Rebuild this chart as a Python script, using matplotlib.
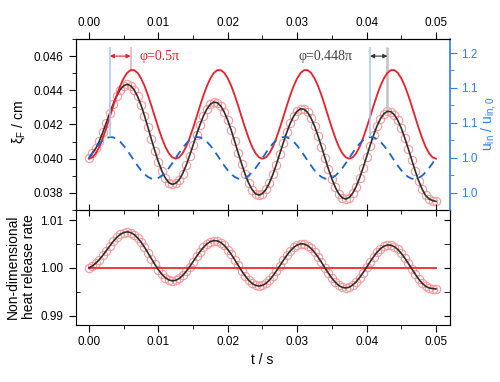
import matplotlib
matplotlib.use('Agg')
import matplotlib.pyplot as plt
import numpy as np
from matplotlib.ticker import MultipleLocator, FixedLocator, FixedFormatter

plt.rcParams['font.family'] = ['Liberation Sans', 'DejaVu Sans']

# time samples, s
t = np.linspace(0, 0.05, 101)

# flame position with oscillating inlet (black line + circles), cm
xi_flame = [0.04002, 0.04032, 0.04062, 0.04104, 0.04155, 0.04211, 0.04267, 0.04321, 0.04368, 0.04404,
            0.04427, 0.04435, 0.04427, 0.04403, 0.04364, 0.04313, 0.04251, 0.04183, 0.04113, 0.04045,
            0.03982, 0.03928, 0.03887, 0.03860, 0.03850, 0.03856, 0.03877, 0.03913, 0.03961, 0.04018,
            0.04079, 0.04141, 0.04199, 0.04251, 0.04291, 0.04319, 0.04331, 0.04327, 0.04307, 0.04272,
            0.04224, 0.04166, 0.04101, 0.04034, 0.03969, 0.03909, 0.03858, 0.03819, 0.03795, 0.03787,
            0.03796, 0.03820, 0.03858, 0.03908, 0.03966, 0.04030, 0.04093, 0.04154, 0.04207, 0.04249,
            0.04278, 0.04292, 0.04289, 0.04271, 0.04237, 0.04191, 0.04134, 0.04071, 0.04005, 0.03940,
            0.03882, 0.03832, 0.03794, 0.03771, 0.03764, 0.03773, 0.03798, 0.03837, 0.03888, 0.03947,
            0.04011, 0.04076, 0.04137, 0.04191, 0.04234, 0.04263, 0.04277, 0.04275, 0.04257, 0.04224,
            0.04178, 0.04122, 0.04059, 0.03994, 0.03930, 0.03871, 0.03822, 0.03785, 0.03765, 0.03755,
            0.03750]

# quasi-steady flame position (red line), cm
xi_quasi = [0.04000, 0.04008, 0.04032, 0.04070, 0.04121, 0.04180, 0.04244, 0.04309, 0.04371, 0.04426,
            0.04470, 0.04502, 0.04518, 0.04518, 0.04502, 0.04470, 0.04426, 0.04371, 0.04309, 0.04244,
            0.04180, 0.04121, 0.04070, 0.04032, 0.04008,
            0.04000, 0.04008, 0.04032, 0.04070, 0.04121, 0.04180, 0.04244, 0.04309, 0.04371, 0.04426,
            0.04470, 0.04502, 0.04518, 0.04518, 0.04502, 0.04470, 0.04426, 0.04371, 0.04309, 0.04244,
            0.04180, 0.04121, 0.04070, 0.04032, 0.04008,
            0.04000, 0.04008, 0.04032, 0.04070, 0.04121, 0.04180, 0.04244, 0.04309, 0.04371, 0.04426,
            0.04470, 0.04502, 0.04518, 0.04518, 0.04502, 0.04470, 0.04426, 0.04371, 0.04309, 0.04244,
            0.04180, 0.04121, 0.04070, 0.04032, 0.04008,
            0.04000, 0.04008, 0.04032, 0.04070, 0.04121, 0.04180, 0.04244, 0.04309, 0.04371, 0.04426,
            0.04470, 0.04502, 0.04518, 0.04518, 0.04502, 0.04470, 0.04426, 0.04371, 0.04309, 0.04244,
            0.04180, 0.04121, 0.04070, 0.04032, 0.04008,
            0.04000]

# inlet velocity ratio (blue dashed)
u_in = [1.0000, 1.0075, 1.0145, 1.0205, 1.0253, 1.0285, 1.0299, 1.0295, 1.0271, 1.0231,
        1.0176, 1.0110, 1.0038, 0.9962, 0.9890, 0.9824, 0.9769, 0.9729, 0.9705, 0.9701,
        0.9715, 0.9747, 0.9795, 0.9855, 0.9925,
        1.0000, 1.0075, 1.0145, 1.0205, 1.0253, 1.0285, 1.0299, 1.0295, 1.0271, 1.0231,
        1.0176, 1.0110, 1.0038, 0.9962, 0.9890, 0.9824, 0.9769, 0.9729, 0.9705, 0.9701,
        0.9715, 0.9747, 0.9795, 0.9855, 0.9925,
        1.0000, 1.0075, 1.0145, 1.0205, 1.0253, 1.0285, 1.0299, 1.0295, 1.0271, 1.0231,
        1.0176, 1.0110, 1.0038, 0.9962, 0.9890, 0.9824, 0.9769, 0.9729, 0.9705, 0.9701,
        0.9715, 0.9747, 0.9795, 0.9855, 0.9925,
        1.0000, 1.0075, 1.0145, 1.0205, 1.0253, 1.0285, 1.0299, 1.0295, 1.0271, 1.0231,
        1.0176, 1.0110, 1.0038, 0.9962, 0.9890, 0.9824, 0.9769, 0.9729, 0.9705, 0.9701,
        0.9715, 0.9747, 0.9795, 0.9855, 0.9925,
        1.0000]

# non-dimensional heat release rate
heat = [1.00000, 1.00040, 1.00100, 1.00174, 1.00263, 1.00361, 1.00460, 1.00554, 1.00636, 1.00699,
        1.00739, 1.00753, 1.00739, 1.00697, 1.00629, 1.00539, 1.00432, 1.00313, 1.00191, 1.00071,
        0.99960, 0.99867, 0.99794, 0.99748, 0.99729, 0.99740, 0.99778, 0.99841, 0.99925, 1.00023,
        1.00130, 1.00239, 1.00341, 1.00431, 1.00502, 1.00550, 1.00571, 1.00564, 1.00529, 1.00468,
        1.00384, 1.00283, 1.00170, 1.00053, 0.99938, 0.99833, 0.99744, 0.99676, 0.99634, 0.99620,
        0.99635, 0.99677, 0.99744, 0.99832, 0.99934, 1.00044, 1.00156, 1.00261, 1.00354, 1.00429,
        1.00479, 1.00503, 1.00499, 1.00466, 1.00407, 1.00326, 1.00227, 1.00116, 1.00001, 0.99888,
        0.99785, 0.99698, 0.99632, 0.99592, 0.99580, 0.99596, 0.99640, 0.99708, 0.99797, 0.99900,
        1.00012, 1.00125, 1.00232, 1.00326, 1.00401, 1.00453, 1.00478, 1.00474, 1.00443, 1.00385,
        1.00304, 1.00206, 1.00096, 0.99982, 0.99870, 0.99767, 0.99681, 0.99616, 0.99580, 0.99568,
        0.99560]

t_steady = [0.0, 0.05]
heat_steady = [1.0, 1.0]

phase_labels = ['\u03c6=0.5\u03c0', '\u03c6=0.448\u03c0']

u_ticks = [1.15, 1.10, 1.05, 1.00, 0.95]
u_ticklabels = ['1.2', '1.1', '1.1', '1.0', '1.0']

RED = '#e8202a'
CIRC = '#f59a9a'
BLACK = '#2e2e2e'
BLUE = '#1a62d6'
AXBLUE = '#2f7de6'

fig = plt.figure(figsize=(5.0, 3.82), dpi=100)
ax1 = fig.add_axes([0.152, 0.4503, 0.748, 0.4476])
ax3 = fig.add_axes([0.152, 0.1492, 0.748, 0.3011])
ax2 = ax1.twinx()

# ---- top panel
ax1.plot(t, xi_flame, 'o', ms=6, mfc='none', mec=CIRC, mew=0.8, zorder=2)
ax1.plot(t, xi_flame, color=BLACK, lw=1.2, zorder=3)
ax1.plot(t, xi_quasi, color=RED, lw=1.3, zorder=3)
ax2.plot(t, u_in, color=BLUE, lw=1.3, dashes=(4.5, 3.2))

ax1.set_xlim(-0.00187, 0.05202)
ax1.set_ylim(0.037, 0.047)
ax2.set_ylim(0.9257, 1.17)

ax1.xaxis.set_major_locator(MultipleLocator(0.01))
ax1.xaxis.set_minor_locator(MultipleLocator(0.005))
ax1.xaxis.set_major_formatter(plt.FormatStrFormatter('%.2f'))
ax1.tick_params(axis='x', which='both', top=True, bottom=False, labeltop=True,
                labelbottom=False, direction='out', labelsize=8.5, pad=2)
ax1.tick_params(axis='x', which='major', length=5)
ax1.tick_params(axis='x', which='minor', length=3)
ax1.yaxis.set_major_locator(MultipleLocator(0.002))
ax1.yaxis.set_minor_locator(MultipleLocator(0.001))
ax1.yaxis.set_major_formatter(plt.FormatStrFormatter('%.3f'))
ax1.tick_params(axis='y', which='both', direction='out', labelsize=8.5, pad=4, right=False)
ax1.tick_params(axis='y', which='major', length=5)
ax1.tick_params(axis='y', which='minor', length=3)
ax1.spines['right'].set_visible(False)
ax1.spines['bottom'].set_visible(False)

ax2.yaxis.set_major_locator(FixedLocator(u_ticks))
ax2.yaxis.set_major_formatter(FixedFormatter(u_ticklabels))
ax2.yaxis.set_minor_locator(MultipleLocator(0.025))
ax2.tick_params(axis='y', which='both', direction='out', colors=AXBLUE, labelsize=8.5, pad=3)
ax2.tick_params(axis='y', which='major', length=5)
ax2.tick_params(axis='y', which='minor', length=3)
ax2.spines['right'].set_color(AXBLUE)
ax2.spines['right'].set_linewidth(1.2)
ax2.spines['bottom'].set_visible(False)

# phase markers
i_b1 = int(np.argmax(u_in[:20]))
i_r1 = int(np.argmax(xi_quasi[:20]))
i_b4 = 75 + int(np.argmax(u_in[75:95]))
i_k4 = 75 + int(np.argmax(xi_flame[75:95]))
top_xi = 0.04653
top_u = 1.1586
ax2.vlines(t[i_b1], u_in[i_b1], top_u, color='#a9c9f2', lw=1.1)
ax1.vlines(t[i_r1], xi_quasi[i_r1], top_xi, color='#f6a8a8', lw=1.1)
ax2.vlines(t[i_b4], u_in[i_b4], top_u, color='#a9c9f2', lw=1.1)
ax1.vlines(t[i_k4], xi_flame[i_k4], top_xi, color='#c6c6c6', lw=2.0)
ax1.annotate('', xy=(t[i_b1], 0.046), xytext=(t[i_r1], 0.046),
             arrowprops=dict(arrowstyle='<|-|>', color=RED, lw=0.8, shrinkA=0, shrinkB=0,
                             mutation_scale=6))
ax1.annotate('', xy=(t[i_b4], 0.046), xytext=(t[i_k4], 0.046),
             arrowprops=dict(arrowstyle='<|-|>', color='#333333', lw=0.8, shrinkA=0, shrinkB=0,
                             mutation_scale=6))
ax1.text(0.0073, 0.046, phase_labels[0], color=RED, fontsize=10, va='center', ha='left',
         family=['Liberation Serif', 'DejaVu Serif'])
ax1.text(0.0380, 0.046, phase_labels[1], color='#444444', fontsize=10, va='center', ha='right',
         family=['Liberation Serif', 'DejaVu Serif'])

# ---- bottom panel
ax3.plot(t, heat, 'o', ms=6, mfc='none', mec=CIRC, mew=0.8, zorder=2)
ax3.plot(t, heat, color=BLACK, lw=1.2, zorder=3)
ax3.plot(t_steady, heat_steady, color='#ee3a3a', lw=1.4, zorder=2)
ax3.set_xlim(-0.00187, 0.05202)
ax3.set_ylim(0.98806, 1.0121)

ax3.xaxis.set_major_locator(MultipleLocator(0.01))
ax3.xaxis.set_minor_locator(MultipleLocator(0.005))
ax3.xaxis.set_major_formatter(plt.FormatStrFormatter('%.2f'))
ax3.tick_params(axis='x', which='both', direction='out', labelsize=8.5, pad=3, top=False)
ax3.tick_params(axis='x', which='major', length=5)
ax3.tick_params(axis='x', which='minor', length=3)
ax3.yaxis.set_major_locator(MultipleLocator(0.01))
ax3.yaxis.set_minor_locator(MultipleLocator(0.005))
ax3.yaxis.set_major_formatter(plt.FormatStrFormatter('%.2f'))
ax3.tick_params(axis='y', which='major', direction='out', length=5, labelsize=8.5, pad=4, right=False)
ax3.tick_params(axis='y', which='minor', direction='in', length=3, right=False)

sec_top = ax3.secondary_xaxis('top')
sec_top.xaxis.set_major_locator(MultipleLocator(0.01))
sec_top.xaxis.set_minor_locator(MultipleLocator(0.005))
sec_top.tick_params(axis='x', which='major', direction='inout', length=9, labeltop=False)
sec_top.tick_params(axis='x', which='minor', direction='in', length=3)
sec_top.set_xticklabels([])

sec_right = ax3.secondary_yaxis('right')
sec_right.yaxis.set_major_locator(MultipleLocator(0.01))
sec_right.yaxis.set_minor_locator(MultipleLocator(0.005))
sec_right.tick_params(axis='y', which='both', direction='in', length=4, labelright=False)
sec_right.set_yticklabels([])

# labels
fig.text(19 / 500, 1 - 122 / 382, '\u03be$_\\mathregular{F}$ / cm', rotation=90,
         fontsize=10, ha='center', va='center')
fig.text(21 / 500, 1 - 267 / 382, 'Non-dimensional\nheat release rate', rotation=90,
         fontsize=10, ha='center', va='center', multialignment='center', linespacing=1.25)
fig.text(488 / 500, 1 - 124 / 382, 'u$_\\mathregular{in}$ / u$_\\mathregular{in,0}$', rotation=90,
         fontsize=10, ha='center', va='center', color=AXBLUE)
fig.text(262 / 500, 1 - 360 / 382, 't / s', fontsize=10, ha='center', va='center')

fig.savefig('out.png', dpi=100)
